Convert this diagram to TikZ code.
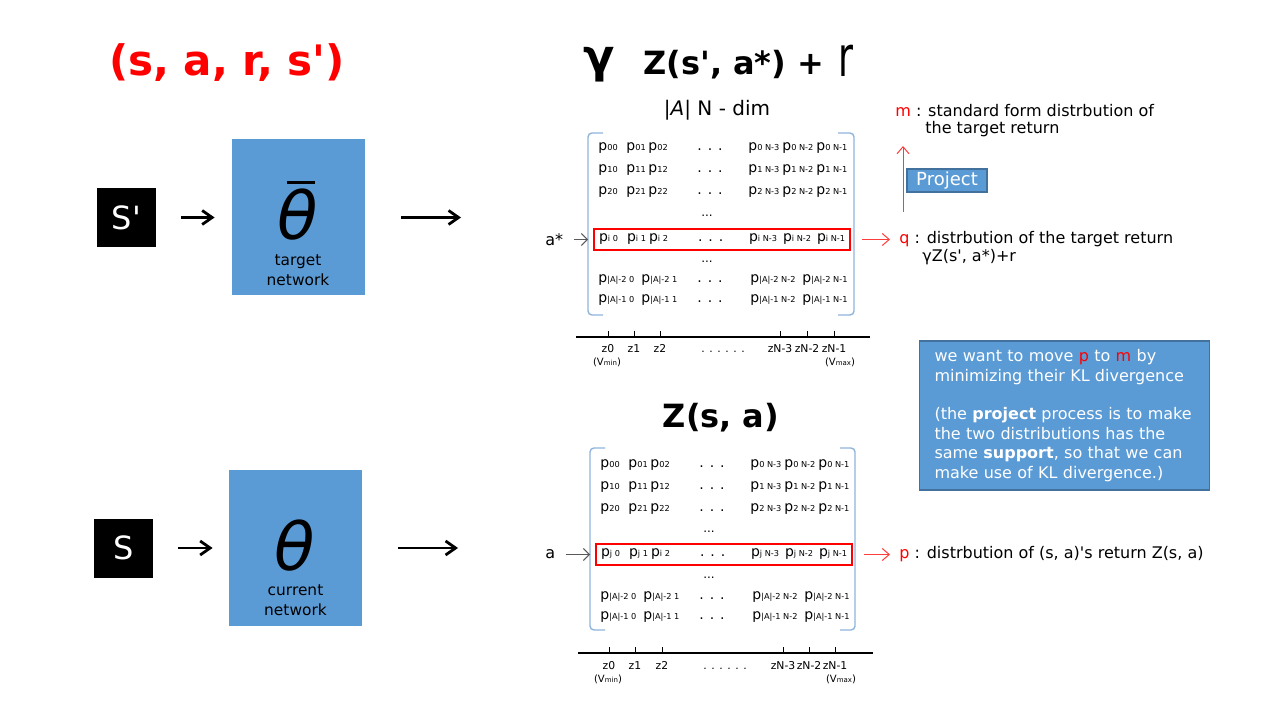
\documentclass[tikz,border=0pt]{standalone}
\usepackage{fontspec}
\usepackage{graphicx}
\setmainfont{DejaVu Sans}
\usetikzlibrary{arrows.meta,positioning}
\definecolor{netblue}{RGB}{91,155,213}
\definecolor{netedge}{RGB}{65,113,156}
\definecolor{brkblue}{RGB}{143,180,220}
\definecolor{arrred}{RGB}{255,60,60}
\newcommand{\fs}[2]{\fontsize{#1}{#2}\selectfont}
\newcommand{\sq}{\textquotesingle}
\newcommand{\pe}[1]{p{\fontsize{4.1}{5}\selectfont #1}}
\newcommand{\prow}[6]{\makebox[14pt][l]{\pe{#1}}\makebox[11pt][l]{\pe{#2}}\makebox[24.5pt][l]{\pe{#3}}\makebox[25.5pt][l]{. . .}\makebox[17pt][l]{\pe{#4}}\makebox[17pt][l]{\pe{#5}}\makebox[14pt][l]{\pe{#6}}}
\newcommand{\arow}[4]{\makebox[21.5pt][l]{\pe{#1}}\makebox[28pt][l]{\pe{#2}}\makebox[26.5pt][l]{. . .}\makebox[26pt][l]{\pe{#3}}\pe{#4}}
\newcommand{\vrange}[1]{(V{\fs{3.5}{4}#1})}

\begin{document}
\begin{tikzpicture}[
  x=0.5pt, y=-0.5pt,
  statebox/.style={fill=black, text=white, minimum size=29.5pt, inner sep=0pt, font=\fs{16}{16}},
  netbox/.style={fill=netblue, minimum width=66.5pt, minimum height=78pt, inner sep=0pt},
  theta/.style={anchor=base, inner sep=0pt, text depth=0pt, font=\fs{33}{33}\itshape},
  netlbl/.style={align=center, inner sep=0pt, font=\fs{7.7}{10}},
  thickarr/.style={-{Straight Barb[length=5pt,width=7pt]}, line width=1.4pt},
  redarr/.style={-{Straight Barb[length=3.5pt,width=6pt]}, arrred, line width=0.5pt},
  ptr/.style={-{Straight Barb[length=3pt,width=6pt]}, black!65, line width=0.5pt},
  entry/.style={anchor=base west, inner sep=0pt, font=\fs{7}{8}},
  selrow/.style={draw=red, line width=1pt, anchor=west, inner xsep=2.5pt, inner ysep=0pt, minimum height=10.5pt, font=\fs{7}{8}},
  vdots/.style={inner sep=0pt, font=\fs{6}{6}},
  brk/.style={brkblue, line width=0.7pt, rounded corners=2pt},
  axis/.style={line width=1pt},
  zlbl/.style={anchor=base, inner sep=0pt, font=\fs{5.4}{6}},
  vlbl/.style={anchor=base, inner sep=0pt, font=\fs{5}{6}},
  lbl/.style={anchor=west, inner sep=2pt, font=\fs{8}{9.5}},
  bluebox/.style={fill=netblue, draw=netedge, line width=0.6pt, text=white}
]
\useasboundingbox (0,0) rectangle (1279,721);

% headings
\node[text=red, font=\fs{21}{21}\bfseries] (tuple) at (227,63) {(s, a, r, s\sq)};
\node[anchor=base, inner sep=0pt, font=\fs{23}{23}\bfseries] (gam) at (599,73) {γ};
\node[anchor=base west, inner sep=0pt, font=\fs{16}{16}\bfseries] (ztgt) at (643,75) {Z(s\sq, a*) +};
\node[anchor=base west, inner sep=0pt, font=\fs{28}{28}] (rew) at (838,77) {\scalebox{0.65}[1]{r}};

% target side
\node[statebox] (sp) at (126.5,217.5) {S\sq};
\node[netbox] (tnet) at (298.5,217.5) {};
\node[theta] (tth) at (298,240) {\rlap{\hspace{4.5pt}\raisebox{28pt}{\rule{14pt}{1.5pt}}}θ};
\node[netlbl] (tlbl) at (298,270) {target\\network};
\coordinate (tout) at (461,217.5);
\draw[thickarr, shorten <=12.5pt, shorten >=8.5pt] (sp) -- (tnet);
\draw[thickarr, shorten <=18pt] (tnet) -- (tout);

% current side
\node[statebox] (s) at (123.5,548) {S};
\node[netbox] (cnet) at (295.5,548) {};
\node[theta] (cth) at (295,570) {θ};
\node[netlbl] (clbl) at (295.5,600) {current\\network};
\coordinate (cout) at (458,548);
\draw[thickarr, shorten <=12.5pt, shorten >=8pt] (s) -- (cnet);
\draw[thickarr, shorten <=18pt] (cnet) -- (cout);

% target matrix
\node[font=\fs{10}{10}] (tdim) at (717,110) {|{\itshape A}| N - dim};
\draw[brk] (603,133) -- (588,133) -- (588,315) -- (603,315);
\draw[brk] (838,133) -- (854,133) -- (854,315) -- (838,315);
\node[entry] (tr0) at (598,151) {\prow{00}{01}{02}{0 N-3}{0 N-2}{0 N-1}};
\node[entry] (tr1) at (598,173) {\prow{10}{11}{12}{1 N-3}{1 N-2}{1 N-1}};
\node[entry] (tr2) at (598,195) {\prow{20}{21}{22}{2 N-3}{2 N-2}{2 N-1}};
\node[vdots] (td1) at (707,216) {...};
\node[selrow] (qrow) at (593,239.5) {\prow{i 0}{i 1}{i 2}{i N-3}{i N-2}{i N-1}};
\node[vdots] (td2) at (707,262) {...};
\node[entry] (tr3) at (598,283) {\arow{|A|-2 0}{|A|-2 1}{|A|-2 N-2}{|A|-2 N-1}};
\node[entry] (tr4) at (598,303) {\arow{|A|-1 0}{|A|-1 1}{|A|-1 N-2}{|A|-1 N-1}};
\node[lbl] (astar) at (541,239.5) {a*};
\draw[ptr, shorten <=3pt, shorten >=2.5pt] (astar) -- (qrow);

\draw[axis] (576,337) -- (870,337);
\foreach \x in {608,634,660,780,807,834}
  \draw[line width=0.5pt] (\x,331) -- (\x,337);
\foreach \x/\t in {608/z0,634/z1,660/z2,723/{. . . . . .},780/zN-3,807/zN-2,834/zN-1}
  \node[zlbl] at (\x,353) {\t};
\node[vlbl] (tvmin) at (607,366) {\vrange{min}};
\node[vlbl] (tvmax) at (840,366) {\vrange{max}};

% current matrix
\node[font=\fs{16}{16}\bfseries] (zcur) at (721,418) {Z(s, a)};
\draw[brk] (605,448) -- (590,448) -- (590,630) -- (605,630);
\draw[brk] (840,448) -- (855,448) -- (855,630) -- (840,630);
\node[entry] (cr0) at (600,467) {\prow{00}{01}{02}{0 N-3}{0 N-2}{0 N-1}};
\node[entry] (cr1) at (600,489) {\prow{10}{11}{12}{1 N-3}{1 N-2}{1 N-1}};
\node[entry] (cr2) at (600,511) {\prow{20}{21}{22}{2 N-3}{2 N-2}{2 N-1}};
\node[vdots] (cd1) at (709,532) {...};
\node[selrow] (prow) at (595,554.5) {\prow{j 0}{j 1}{i 2}{j N-3}{j N-2}{j N-1}};
\node[vdots] (cd2) at (709,578) {...};
\node[entry] (cr3) at (600,599) {\arow{|A|-2 0}{|A|-2 1}{|A|-2 N-2}{|A|-2 N-1}};
\node[entry] (cr4) at (600,619) {\arow{|A|-1 0}{|A|-1 1}{|A|-1 N-2}{|A|-1 N-1}};
\node[lbl] (acur) at (541,554.5) {a};
\draw[ptr, shorten <=3pt, shorten >=2.5pt] (acur) -- (prow);

\draw[axis] (578,653) -- (873,653);
\foreach \x in {609,635,662,783,809,835}
  \draw[line width=0.5pt] (\x,647) -- (\x,653);
\foreach \x/\t in {609/z0,635/z1,662/z2,725/{. . . . . .},783/zN-3,809/zN-2,835/zN-1}
  \node[zlbl] at (\x,669) {\t};
\node[vlbl] (cvmin) at (608,682) {\vrange{min}};
\node[vlbl] (cvmax) at (841,682) {\vrange{max}};

% labels on the right
\node[lbl] (mlab) at (891,110.5) {{\color{red}m} : standard form distrbution of};
\node[lbl] (mlab2) at (921,129) {the target return};
\node[lbl] (qlab) at (895,239.5) {{\color{red}q} : distrbution of the target return};
\node[lbl] (qlab2) at (918,257) {γZ(s\sq, a*)+r};
\node[lbl] (plab) at (895,554.5) {{\color{red}p} : distrbution of (s, a)\sq s return Z(s, a)};
\draw[redarr, shorten <=5.5pt, shorten >=2.5pt] (qrow) -- (qlab);
\draw[redarr, shorten <=5.5pt, shorten >=2.5pt] (prow) -- (plab);
\coordinate (pfoot) at (903,212);
\coordinate (phead) at (903,146);
\draw[redarr] (pfoot) -- (phead);
\node[bluebox, minimum width=40pt, minimum height=11.5pt, inner sep=0pt, font=\fs{9}{9}] (proj) at (947,180.5) {Project};

\node[bluebox, minimum width=145pt, minimum height=74.5pt, text width=130pt, align=left, inner sep=0pt, font=\fs{8}{9.7}] (kl) at (1064.5,415.5)
  {we want to move {\color{red}p} to {\color{red}m} by\\minimizing their KL divergence\\[9.7pt](the \textbf{project} process is to make\\the two distributions has the\\same \textbf{support}, so that we can\\make use of KL divergence.)};
\end{tikzpicture}
\end{document}
